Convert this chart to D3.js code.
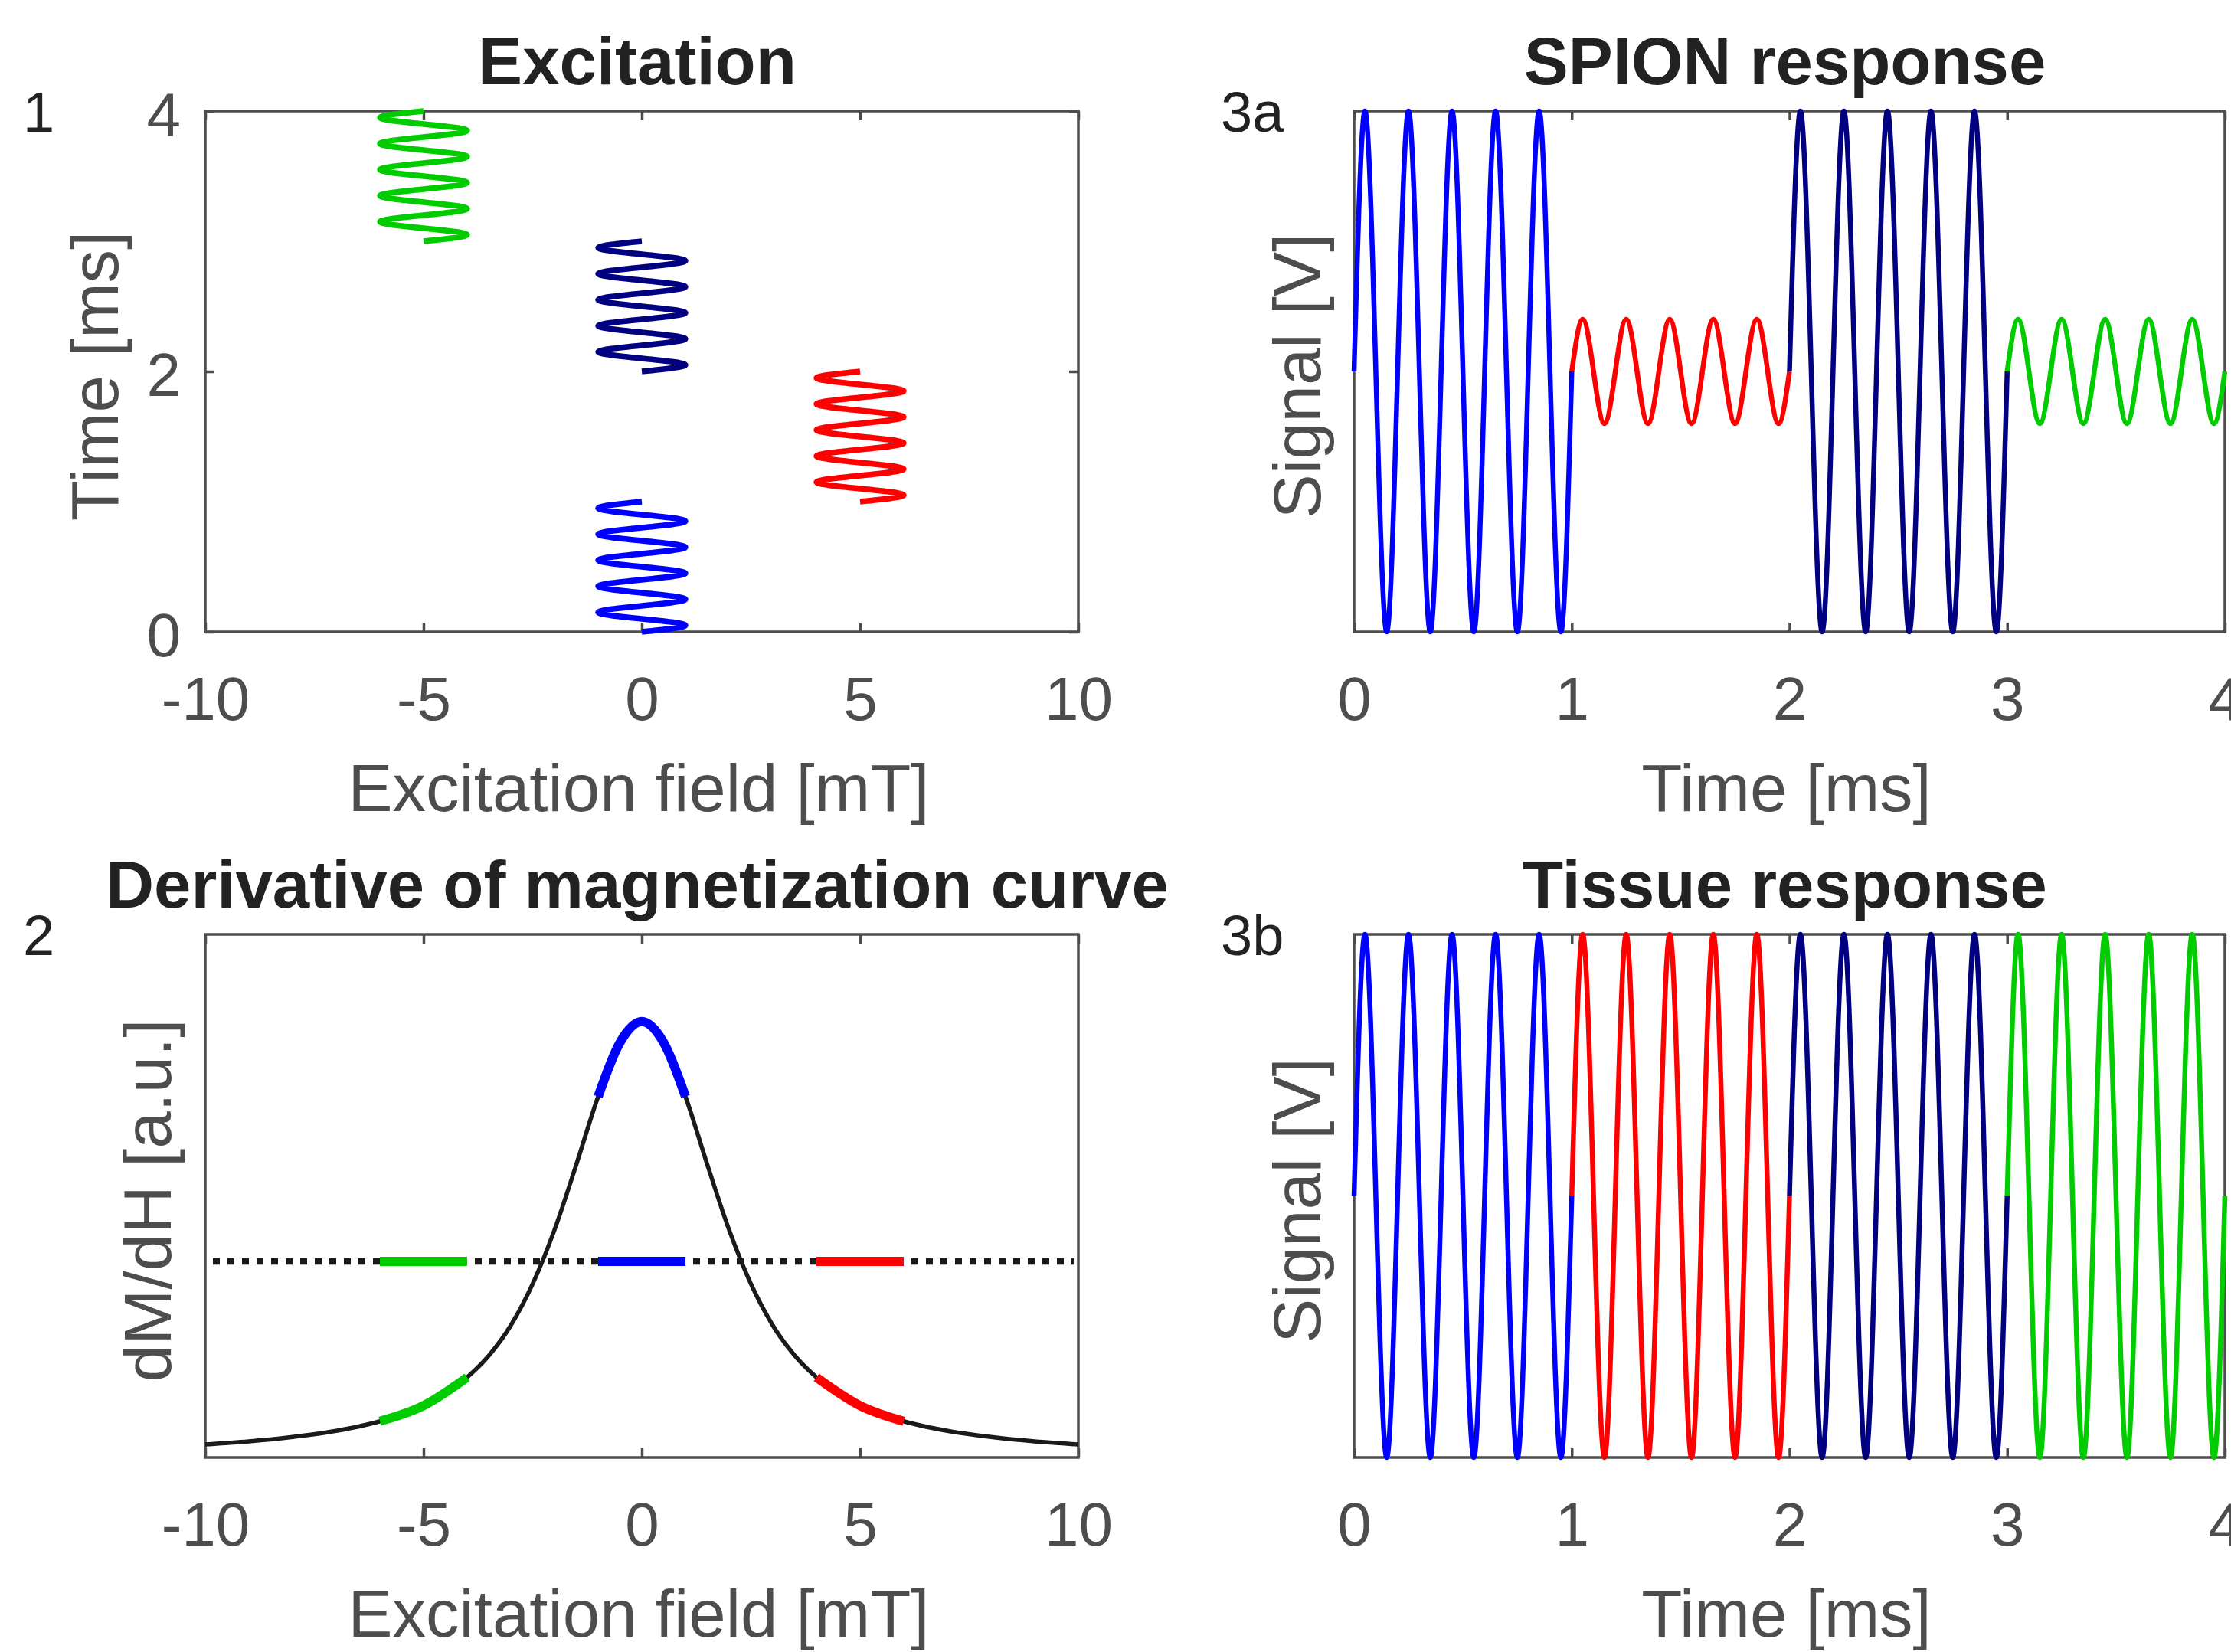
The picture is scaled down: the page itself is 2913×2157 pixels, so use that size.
<!DOCTYPE html>
<html lang="en">
<head>
<meta charset="UTF-8">
<title>SPION excitation and response</title>
<script src="https://d3js.org/d3.v7.min.js"></script>
<style>
  body { margin: 0; background: #fff; }
  svg { display: block; font-family: "Liberation Sans", Arial, sans-serif; }
</style>
</head>
<body>
<svg id="fig" width="2913" height="2157"></svg>
<script>
// excitation sequence, one segment per ms
const segStart = [0, 1, 2, 3];
const segColor = ["#0000ff", "#ff0000", "#000080", "#00cc00"];
const segField = [0, 5, 0, -5];          // offset field [mT]
const driveAmp = 1;                       // drive amplitude [mT]
const cyclesPerSeg = 5;
const cycleShape = [0, 1, 0, -1];         // quarter-period samples of one cycle
const spionAmp = [1, 0.2, 1, 0.2];
const tissueAmp = [1, 1, 1, 1];

// derivative of the magnetization curve (normalised to the peak)
const fieldPts = [-10, -9, -8, -7, -6, -5, -4, -3.5, -3, -2.5, -2, -1.5, -1, -0.5, 0,
                  0.5, 1, 1.5, 2, 2.5, 3, 3.5, 4, 5, 6, 7, 8, 9, 10];
const dMdH = [0.030, 0.037, 0.047, 0.061, 0.083, 0.119, 0.184, 0.234, 0.303, 0.398, 0.522, 0.672, 0.828, 0.952, 1.0,
              0.952, 0.828, 0.672, 0.522, 0.398, 0.303, 0.234, 0.184, 0.119, 0.083, 0.061, 0.047, 0.037, 0.030];
const tissueLevel = 0.45;

// ticks
const fieldTicks = [-10, -5, 0, 5, 10];
const timeTicks = [0, 1, 2, 3, 4];
const excTimeTicks = [0, 2, 4];

const svg = d3.select("#fig");
const axisCol = "#4d4d4d";
const textCol = "#222";
const tickFont = 80, labFont = 87;

// axes boxes (pixels)
const L = [268, 1408], R = [1768, 2905];
const T = [825, 145], B = [1903, 1220];

function waveSeg(i, amp) {
  const n = cyclesPerSeg * cycleShape.length;
  return d3.range(n + 1).map(k => ({
    t: segStart[i] + k / n,
    v: amp * cycleShape[k % cycleShape.length]
  }));
}

function styleAxis(a, withText) {
  a.select(".domain").remove();
  a.attr("font-family", null).attr("font-size", tickFont);
  a.selectAll(".tick line").attr("stroke", axisCol).attr("stroke-width", 3.5);
  if (withText) a.selectAll("text").attr("fill", axisCol).text(d => String(d));
  else a.selectAll("text").remove();
}

function frame(x, y, xt, yt) {
  const g = svg.append("g");
  const [x0, x1] = x.range(), [yb, yt0] = y.range();
  g.append("rect")
    .attr("x", x0).attr("y", yt0).attr("width", x1 - x0).attr("height", yb - yt0)
    .attr("fill", "none").attr("stroke", axisCol).attr("stroke-width", 3.5);

  const bottom = g.append("g").attr("transform", `translate(0,${yb})`)
    .call(d3.axisBottom(x).tickValues(xt).tickSize(-12).tickSizeOuter(0).tickPadding(58));
  styleAxis(bottom, true);
  bottom.selectAll("text").attr("dy", null).attr("y", 115);
  const top = g.append("g").attr("transform", `translate(0,${yt0})`)
    .call(d3.axisTop(x).tickValues(xt).tickSize(-12).tickSizeOuter(0));
  styleAxis(top, false);
  if (yt) {
    const left = g.append("g").attr("transform", `translate(${x0},0)`)
      .call(d3.axisLeft(y).tickValues(yt).tickSize(-12).tickSizeOuter(0).tickPadding(32));
    styleAxis(left, true);
    left.selectAll("text").attr("dy", "0.39em");
    const right = g.append("g").attr("transform", `translate(${x1},0)`)
      .call(d3.axisRight(y).tickValues(yt).tickSize(-12).tickSizeOuter(0));
    styleAxis(right, false);
  }
  return g;
}

function labels(x, y, title, xlab, ylab, ylabX, tag, tagX) {
  const [x0, x1] = x.range(), [yb, yt0] = y.range();
  const cx = (x0 + x1) / 2, cy = (yb + yt0) / 2;
  svg.append("text").attr("x", cx - 6).attr("y", yt0 - 35)
    .attr("text-anchor", "middle").attr("font-size", labFont).attr("font-weight", "bold")
    .attr("fill", textCol).text(title);
  svg.append("text").attr("x", cx - 4).attr("y", yb + 234)
    .attr("text-anchor", "middle").attr("font-size", labFont)
    .attr("fill", axisCol).text(xlab);
  svg.append("text").attr("transform", `translate(${ylabX},${cy + 6}) rotate(-90)`)
    .attr("text-anchor", "middle").attr("font-size", labFont)
    .attr("fill", axisCol).text(ylab);
  svg.append("text").attr("x", tagX).attr("y", yt0 + 27)
    .attr("font-size", 74).attr("fill", textCol).text(tag);
}

// ---- 1: excitation ----
{
  const x = d3.scaleLinear().domain([-10, 10]).range(L);
  const y = d3.scaleLinear().domain([0, 4]).range(T);
  frame(x, y, fieldTicks, excTimeTicks);
  const line = d3.line().x(d => d.x).y(d => d.y).curve(d3.curveNatural);
  segStart.forEach((s, i) => {
    const pts = waveSeg(i, driveAmp).map(p => ({ x: x(segField[i] + p.v), y: y(p.t) }));
    svg.append("path").attr("d", line(pts)).attr("fill", "none")
      .attr("stroke", segColor[i]).attr("stroke-width", 7.5).attr("stroke-linejoin", "round");
  });
  labels(x, y, "Excitation", "Excitation field [mT]", "Time [ms]", 154, "1", 30);
}

// ---- 2: derivative of magnetization curve ----
{
  const x = d3.scaleLinear().domain([-10, 10]).range(L);
  const y = d3.scaleLinear().domain([0, 1.2]).range(B);
  frame(x, y, fieldTicks, null);
  const curve = fieldPts.map((f, i) => ({ f, v: dMdH[i] }));
  const line = d3.line().x(d => x(d.f)).y(d => y(d.v)).curve(d3.curveMonotoneX);
  svg.append("path").attr("d", line(curve)).attr("fill", "none")
    .attr("stroke", "#1a1a1a").attr("stroke-width", 5.5);
  svg.append("line")
    .attr("x1", x(-10) + 10).attr("x2", x(10) - 6).attr("y1", y(tissueLevel)).attr("y2", y(tissueLevel))
    .attr("stroke", "#1a1a1a").attr("stroke-width", 8.5).attr("stroke-dasharray", "9 10");
  segField.forEach((f, i) => {
    if (segField.indexOf(f) !== i) return;
    const part = curve.filter(d => d.f >= f - driveAmp - 1e-9 && d.f <= f + driveAmp + 1e-9);
    svg.append("path").attr("d", line(part)).attr("fill", "none")
      .attr("stroke", segColor[i]).attr("stroke-width", 12);
    svg.append("line")
      .attr("x1", x(f - driveAmp)).attr("x2", x(f + driveAmp))
      .attr("y1", y(tissueLevel)).attr("y2", y(tissueLevel))
      .attr("stroke", segColor[i]).attr("stroke-width", 12);
  });
  labels(x, y, "Derivative of magnetization curve", "Excitation field [mT]", "dM/dH [a.u.]", 223, "2", 30);
}

// ---- 3a / 3b: responses ----
[[T, spionAmp, "SPION response", "3a"], [B, tissueAmp, "Tissue response", "3b"]].forEach(([rng, amps, title, tag]) => {
  const x = d3.scaleLinear().domain([0, 4]).range(R);
  const y = d3.scaleLinear().domain([-1, 1]).range(rng);
  frame(x, y, timeTicks, null);
  const line = d3.line().x(d => x(d.t)).y(d => y(d.v)).curve(d3.curveNatural);
  segStart.forEach((s, i) => {
    svg.append("path").attr("d", line(waveSeg(i, amps[i]))).attr("fill", "none")
      .attr("stroke", segColor[i]).attr("stroke-width", 6.5).attr("stroke-linejoin", "round");
  });
  labels(x, y, title, "Time [ms]", "Signal [V]", 1724, tag, 1594);
});
</script>
</body>
</html>
